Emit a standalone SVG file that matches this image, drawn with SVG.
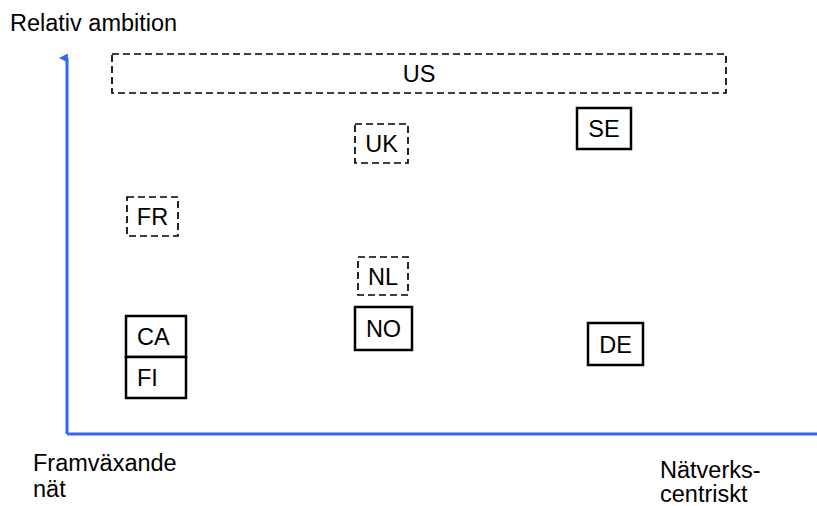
<svg xmlns="http://www.w3.org/2000/svg" width="817" height="506" viewBox="0 0 817 506">
  <style>
    text { font-family: "Liberation Sans", Arial, sans-serif; font-size: 23.5px; fill: #000; }
    .lbl { text-anchor: middle; }
    .solid { fill: #fff; stroke: #000; stroke-width: 2.5; }
    .dash { fill: #fff; stroke: #000; stroke-width: 1.7; stroke-dasharray: 7 4; }
    .axis { fill: none; stroke: #3366ff; stroke-width: 3; }
  </style>
  <defs>
    <marker id="arrow" viewBox="0 0 10 10" refX="5" refY="9" markerWidth="3" markerHeight="3" orient="auto-start-reverse" markerUnits="strokeWidth">
      <path d="M0,10 L5,0 L10,10 Z" fill="#3366ff"/>
    </marker>
  </defs>
  <rect width="817" height="506" fill="#fff"/>

  <!-- axes -->
  <g id="connectors">
    <path class="axis" d="M67,434 V58" marker-end="url(#arrow)"/>
    <path class="axis" d="M67,434 H817"/>
  </g>

  <!-- axis captions -->
  <text x="10" y="31">Relativ ambition</text>
  <text x="33" y="471">Framväxande</text>
  <text x="33" y="497">nät</text>
  <text x="660" y="478">Nätverks-</text>
  <text x="660" y="502">centriskt</text>

  <!-- countries -->
  <g id="US"><rect class="dash" x="112" y="54" width="614" height="39"/><text class="lbl" x="419" y="82">US</text></g>
  <g id="UK"><rect class="dash" x="355" y="124" width="53" height="39"/><text class="lbl" x="381.5" y="152">UK</text></g>
  <g id="SE"><rect class="solid" x="577" y="108" width="54" height="41"/><text class="lbl" x="604" y="137">SE</text></g>
  <g id="FR"><rect class="dash" x="127" y="197" width="51" height="39"/><text class="lbl" x="152.5" y="225">FR</text></g>
  <g id="NL"><rect class="dash" x="358" y="257" width="50" height="38"/><text class="lbl" x="383" y="285">NL</text></g>
  <g id="NO"><rect class="solid" x="355" y="307" width="57" height="43"/><text class="lbl" x="383.5" y="337">NO</text></g>
  <g id="CA"><rect class="solid" x="126" y="316" width="60" height="41"/><text x="137" y="345">CA</text></g>
  <g id="FI"><rect class="solid" x="126" y="357" width="60" height="41"/><text x="137" y="386">FI</text></g>
  <g id="DE"><rect class="solid" x="588" y="323" width="55" height="42"/><text class="lbl" x="615.5" y="353">DE</text></g>
</svg>
